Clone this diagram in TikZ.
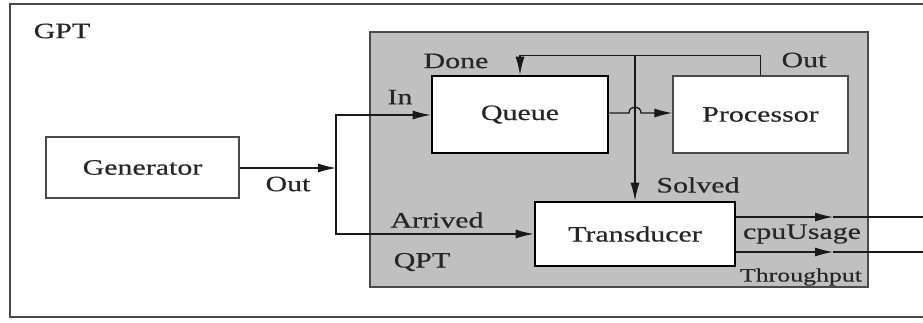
\documentclass[tikz,border=0pt]{standalone}
\usepackage{fontspec}
\setmainfont{Liberation Serif}[FakeStretch=1.36, FakeBold=0.4]
\usepackage{tikz}
\usetikzlibrary{arrows.meta}
\definecolor{qpgray}{HTML}{C0C0C0}
\definecolor{qpline}{HTML}{4A4A4A}
\definecolor{qptext}{HTML}{262626}

\begin{document}
\begin{tikzpicture}[x=1pt, y=-1pt,
  lbl/.style={text=qptext, inner sep=0pt, font=\fontsize{22}{24}\selectfont},
  model/.style={draw=qpline, line width=1.3pt, fill=white, inner sep=0pt, lbl},
  atomic/.style={draw=black, line width=2.6pt, fill=white, inner sep=0pt, lbl},
  conn/.style={draw=black!90, line width=1.3pt, -{Latex[length=18pt,width=9pt]}},
  wire/.style={draw=black!90, line width=1.3pt}]
  \clip (0,0) rectangle (923,322);
  \fill[white] (0,0) rectangle (923,322);
  % containers
  \node[draw=qpline, line width=1.4pt, minimum width=940pt, minimum height=313pt, inner sep=0pt] (gpt) at (480,160.5) {};
  \node[draw=qpline, line width=1.4pt, fill=qpgray, minimum width=498pt, minimum height=255pt, inner sep=0pt] (qpt) at (619,159.5) {};
  \node[lbl] (gptlbl) at (62,31) {GPT};
  \node[lbl] (qptlbl) at (422,262) {QPT};
  % models
  \node[model, minimum width=193pt, minimum height=61pt] (gen) at (142.5,167.5) {Generator};
  \node[atomic, minimum width=176pt, minimum height=77pt] (queue) at (520,114.5) {Queue};
  \node[model, minimum width=175pt, minimum height=77pt] (proc) at (760.5,114.5) {Processor};
  \node[atomic, minimum width=200pt, minimum height=64pt] (trans) at (635,234) {Transducer};
  % port labels
  \node[lbl] (genout) at (288,184) {Out};
  \node[lbl] (inlbl) at (400,97) {In};
  \node[lbl] (donelbl) at (456,61) {Done};
  \node[lbl] (outlbl) at (804,60) {Out};
  \node[lbl] (solvedlbl) at (698,185) {Solved};
  \node[lbl] (arrivedlbl) at (437,220) {Arrived};
  \node[lbl] (cpulbl) at (802,234) {cpuUsage};
  \node[lbl, font=\fontsize{19}{21}\selectfont] (thrlbl) at (801,277) {Throughput};
  % coupling points
  \coordinate (jn) at (336,168);
  \coordinate (split) at (635,56);
  \coordinate (hopa) at (629,113);
  \coordinate (hopb) at (641,113);
  \coordinate (cputip) at (833,217);
  \coordinate (cpuend) at (930,217);
  \coordinate (thrtip) at (833,252);
  \coordinate (thrend) at (930,252);
  % couplings
  \draw[conn] (gen.east |- jn) -- (jn);
  \draw[conn] (jn) |- (queue.west |- 0,115);
  \draw[conn] (jn) |- (trans.west);
  \draw[conn] (proc.north) -- ++(0,-20) -| (queue.north);
  \draw[conn] (split) -- (trans.north);
  \draw[conn] (queue.east |- hopa) -- (hopa) .. controls (629,105) and (641,105) .. (hopb) -- (proc.west |- hopb);
  \draw[conn] (trans.east |- cputip) -- (cputip);
  \draw[wire] (cputip) -- (cpuend);
  \draw[conn] (trans.east |- thrtip) -- (thrtip);
  \draw[wire] (thrtip) -- (thrend);
\end{tikzpicture}
\end{document}
